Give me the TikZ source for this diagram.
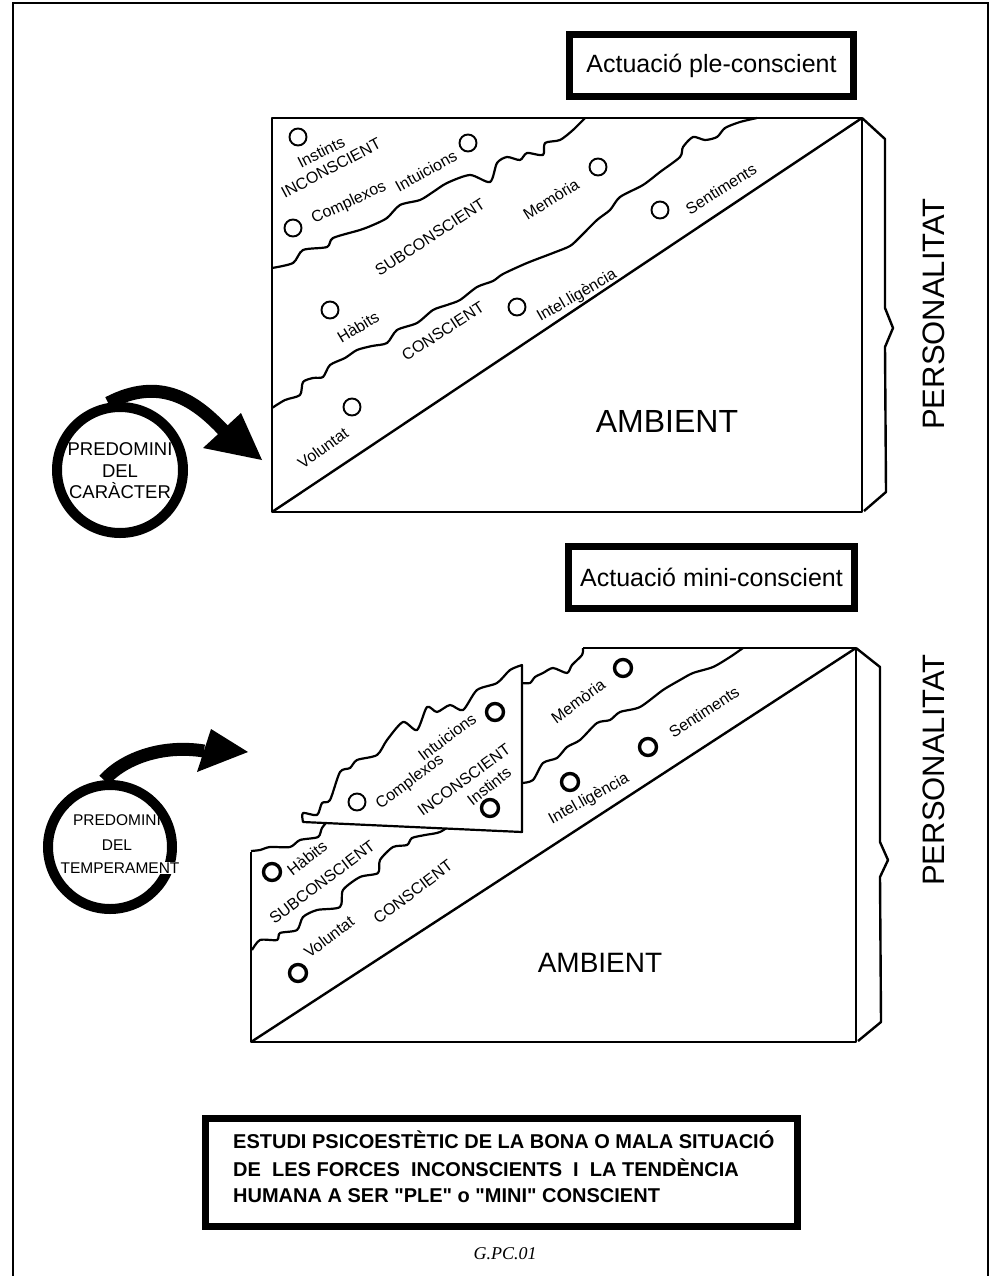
\documentclass[tikz,border=0pt]{standalone}
\usepackage{fontspec}
\setmainfont{Liberation Sans}
\newfontfamily\capfont{Liberation Sans}
\newfontfamily\serifit{Liberation Serif}
\begin{document}
\begin{tikzpicture}[x=1pt,y=-1pt,
  lbl/.style={font=\fontsize{16}{16}\selectfont,inner sep=0pt},
  big/.style={font=\fontsize{32}{32}\selectfont,inner sep=0pt},
  pers/.style={font=\fontsize{31}{31}\selectfont,inner sep=0pt,rotate=90},
  ring/.style={draw,circle,minimum size=17pt,inner sep=0pt,line width=1.9pt},
  thickring/.style={ring,line width=3.4pt},
  edge/.style={line width=2.4pt,line join=round},
  jag/.style={line width=2.2pt,line join=round},
  titlebox/.style={draw,line width=7pt,minimum height=62pt,inner sep=0pt,
     font=\fontsize{25}{25}\selectfont},
  bigring/.style={draw,circle,line width=10pt,inner sep=0pt},
  shaft/.style={line width=13pt},
  frameline/.style={line width=1.5pt},
  captxt/.style={anchor=west,inner sep=0pt,font=\capfont\bfseries\fontsize{20}{20}\selectfont}
]
\useasboundingbox (0,0) rectangle (992,1276);
% page frame
\draw[frameline] (13,1290) -- (13,3) -- (988,3) -- (988,1290);

% ================= TOP DIAGRAM =================
\node[titlebox,minimum width=284pt] (tb1) at (711.5,65.5) {Actuació ple-conscient};

\draw[edge] (272,118) rectangle (862,512);
\draw[edge] (272,512) -- (862,118);
\draw[edge] (862,118) -- (885,139) -- (885,308) -- (893,328) -- (885,347) -- (886,492) -- (864,511);

\draw[jag] plot[smooth,tension=0.45] coordinates {(272,268) (293,263) (303,250) (327,247) (333,238)
  (360,230) (373,225) (387,218) (400,205) (420,200) (433,192) (447,183) (470,175) (490,182)
  (497,163) (507,157) (520,160) (527,153) (543,155) (545,143) (560,140) (573,130) (585,118)};
\draw[jag] plot[smooth,tension=0.45] coordinates {(272,408) (285,400) (300,395) (303,382) (313,378)
  (323,377) (330,365) (345,358) (357,350) (372,346) (387,343) (397,330) (417,323) (433,310)
  (447,305) (460,300) (477,287) (493,281) (503,274) (527,263) (553,253) (570,246) (580,237)
  (597,220) (610,210) (620,197) (643,185) (660,172) (680,157) (683,147) (693,137) (705,140)
  (717,137) (725,128) (740,122) (757,118)};

\node[ring] (r1) at (298,137) {};
\node[lbl,rotate=27] (l1) at (321,152) {Instints};
\node[lbl,rotate=28] (l2) at (331,168) {INCONSCIENT};
\node[lbl,rotate=25] (l3) at (349,203) {Complexos};
\node[ring] (r2) at (293,228) {};
\node[lbl,rotate=29] (l4) at (426,171) {Intuicions};
\node[ring] (r3) at (468,143) {};
\node[lbl,rotate=33] (l5) at (430,237) {SUBCONSCIENT};
\node[lbl,rotate=32] (l6) at (551,199) {Memòria};
\node[ring] (r4) at (598,167) {};
\node[ring] (r5) at (660,210) {};
\node[lbl,rotate=32] (l7) at (721,189) {Sentiments};
\node[ring] (r6) at (330,310) {};
\node[lbl,rotate=31] (l8) at (358,327) {Hàbits};
\node[lbl,rotate=33] (l9) at (443,331) {CONSCIENT};
\node[ring] (r7) at (517,307) {};
\node[lbl,rotate=30] (l10) at (577,296) {Intel.ligència};
\node[ring] (r8) at (352,407) {};
\node[lbl,rotate=36] (l11) at (323,448) {Voluntat};
\node[big] (amb1) at (667,421) {AMBIENT};
\node[pers] (p1) at (934,314) {PERSONALITAT};

% predomini del caracter
\node[bigring,minimum size=126pt] (pc) at (120,470) {};
\node[inner sep=0pt,align=center,font=\fontsize{18.5}{21.5}\selectfont] (pct) at (120,471)
  {PREDOMINI\\DEL\\CARÀCTER};
\coordinate (t1) at (262,460);
\draw[shaft] (pc.100) .. controls (160,376) and (195,400) .. (224,431);
\fill (241,413) -- (t1) -- (203,448) -- cycle;

% ================= BOTTOM DIAGRAM =================
\node[titlebox,minimum width=286pt] (tb2) at (711.5,577.5) {Actuació mini-conscient};

\draw[edge] (583,648) -- (856,648) -- (856,1042) -- (251,1042) -- (251,852);
\draw[edge] (251,1042) -- (856,648);
\draw[edge] (856,648) -- (880,667) -- (880,842) -- (888,860) -- (880,877) -- (881,1022) -- (858,1041);
\draw[edge] (522,683) -- (522,832);

\draw[jag] plot[smooth,tension=0.45] coordinates {(583,648) (582,655) (572,665) (567,673)
  (553,668) (543,673) (535,677) (530,683) (522,683)};
\draw[jag] plot[smooth,tension=0.45] coordinates {(522,783) (533,780) (543,763) (557,758)
  (567,747) (580,740) (597,723) (610,720) (620,712) (640,707) (663,690) (680,680) (693,673)
  (713,667) (730,657) (743,648)};
\draw[jag] plot[smooth,tension=0.45] coordinates {(251,851) (260,850) (270,847) (290,847)
  (300,840) (318,837) (322,828) (330,818)};
\draw[jag] plot[smooth,tension=0.45] coordinates {(252,950) (260,940) (277,940) (280,933)
  (297,930) (303,917) (317,910) (340,907) (343,890) (360,877) (378,873) (380,860) (393,847)
  (407,845) (412,838) (425,835) (440,832) (455,822)};

% displaced INCONSCIENT piece
\filldraw[jag,fill=white] plot[smooth,tension=0.45] coordinates {(303,822) (303,813) (317,815)
  (322,803) (330,800) (340,772) (350,768) (357,760) (377,755) (387,740) (403,722) (417,730)
  (427,707) (437,712) (450,705) (463,710) (477,690) (497,683) (510,670) (522,665)}
  -- (522,832) -- cycle;

\node[thickring] (s1) at (495,712) {};
\node[lbl,rotate=37] (m1) at (447,737) {Intuicions};
\node[ring] (s2) at (357,802) {};
\node[lbl,rotate=37] (m2) at (410,782) {Complexos};
\node[lbl,rotate=36] (m3) at (464,780) {INCONSCIENT};
\node[lbl,rotate=38] (m4) at (489,786) {Instints};
\node[thickring] (s3) at (490,808) {};
\node[lbl,rotate=36] (m5) at (578,701) {Memòria};
\node[thickring] (s4) at (623,668) {};
\node[lbl,rotate=33] (m6) at (704,712) {Sentiments};
\node[thickring] (s5) at (648,747) {};
\node[thickring] (s6) at (570,782) {};
\node[lbl,rotate=29] (m7) at (589,799) {Intel.ligència};
\node[thickring] (s7) at (272,872) {};
\node[lbl,rotate=38] (m8) at (307,858) {Hàbits};
\node[lbl,rotate=37] (m9) at (322,882) {SUBCONSCIENT};
\node[lbl,rotate=37] (m10) at (329,937) {Voluntat};
\node[thickring] (s8) at (298,973) {};
\node[lbl,rotate=37] (m11) at (413,892) {CONSCIENT};
\node[big,font=\fontsize{28}{28}\selectfont] (amb2) at (600,963) {AMBIENT};
\node[pers] (p2) at (934,770) {PERSONALITAT};

% predomini del temperament
\node[bigring,minimum size=124pt] (pb) at (110,847) {};
\node[inner sep=0pt,font=\fontsize{15.5}{15.5}\selectfont] (pb1) at (117,820) {PREDOMINI};
\node[inner sep=0pt,font=\fontsize{15.5}{15.5}\selectfont] (pb2) at (117,845) {DEL};
\node[inner sep=0.6pt,fill=white,font=\fontsize{15.5}{15.5}\selectfont] (pb3) at (120,868) {TEMPERAMENT};
\coordinate (t2) at (248,752);
\draw[shaft] (pb.95) .. controls (122,760) and (160,744) .. (204,751);
\fill (211,729) -- (t2) -- (197,772) -- cycle;

% ================= CAPTION =================
\draw[line width=7pt] (205,1118) rectangle (797,1226);
\node[captxt] (c1) at (233,1140) {ESTUDI PSICOESTÈTIC DE LA BONA O MALA SITUACIÓ};
\node[captxt] (c2) at (233,1168) {DE\ \ LES FORCES\ \ INCONSCIENTS\ \ I\ \ LA TENDÈNCIA};
\node[captxt] (c3) at (233,1196) {HUMANA A SER "PLE" o "MINI" CONSCIENT};
\node[inner sep=0pt,font=\serifit\itshape\fontsize{18}{18}\selectfont] (code) at (505,1254) {G.PC.01};
\end{tikzpicture}
\end{document}
